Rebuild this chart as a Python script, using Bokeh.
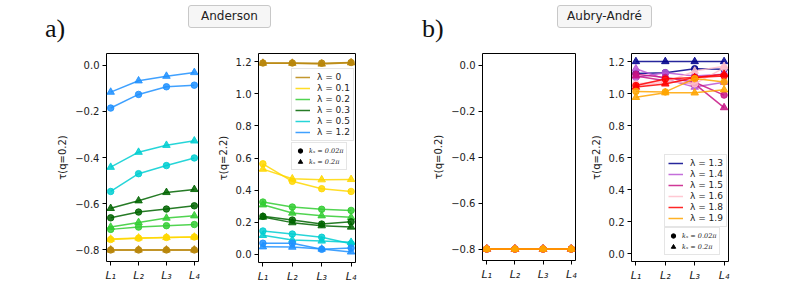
from bokeh.plotting import figure
from bokeh.models import Range1d, FixedTicker, Legend, LegendItem, Div
from bokeh.layouts import row, column
from bokeh.embed import file_html
from bokeh.resources import INLINE

# ---------------- data ----------------
L = [1, 2, 3, 4]
x_labels = ["L₁", "L₂", "L₃", "L₄"]

yticks_q02 = [-0.8, -0.6, -0.4, -0.2, 0.0]
ylabels_q02 = ["−0.8", "−0.6", "−0.4", "−0.2", "0.0"]
yticks_q22 = [0.0, 0.2, 0.4, 0.6, 0.8, 1.0, 1.2]
ylabels_q22 = ["0.0", "0.2", "0.4", "0.6", "0.8", "1.0", "1.2"]

kx_labels = ["kₓ = 0.02π", "kₓ = 0.2π"]

# Anderson
and_lambdas = ["0", "0.1", "0.2", "0.3", "0.5", "1.2"]
and_colors = ["darkgoldenrod", "gold", "limegreen", "darkgreen", "darkturquoise", "dodgerblue"]

and_q02_kx002 = [
    [-0.800, -0.800, -0.800, -0.800],
    [-0.755, -0.749, -0.746, -0.744],
    [-0.711, -0.701, -0.695, -0.690],
    [-0.661, -0.636, -0.623, -0.609],
    [-0.547, -0.470, -0.435, -0.402],
    [-0.186, -0.127, -0.094, -0.087],
]
and_q02_kx02 = [
    [-0.800, -0.800, -0.800, -0.800],
    [-0.753, -0.748, -0.746, -0.744],
    [-0.701, -0.681, -0.662, -0.652],
    [-0.620, -0.587, -0.551, -0.538],
    [-0.442, -0.377, -0.347, -0.328],
    [-0.117, -0.068, -0.048, -0.032],
]
and_q22_kx002 = [
    [1.191, 1.191, 1.190, 1.194],
    [0.564, 0.455, 0.409, 0.392],
    [0.326, 0.295, 0.281, 0.274],
    [0.237, 0.214, 0.189, 0.203],
    [0.146, 0.127, 0.107, 0.067],
    [0.070, 0.070, 0.032, 0.040],
]
and_q22_kx02 = [
    [1.190, 1.190, 1.185, 1.193],
    [0.531, 0.471, 0.465, 0.467],
    [0.309, 0.258, 0.241, 0.231],
    [0.233, 0.198, 0.179, 0.171],
    [0.119, 0.090, 0.084, 0.076],
    [0.048, 0.046, 0.034, 0.016],
]

# Aubry-André
aa_lambdas = ["1.3", "1.4", "1.5", "1.6", "1.8", "1.9"]
aa_colors = ["darkblue", "mediumorchid", "mediumvioletred", "pink", "red", "orange"]

aa_q02_kx002 = [
    [-0.8, -0.8, -0.8, -0.8],
    [-0.8, -0.8, -0.8, -0.8],
    [-0.8, -0.8, -0.8, -0.8],
    [-0.8, -0.8, -0.8, -0.8],
    [-0.8, -0.8, -0.8, -0.8],
    [-0.8, -0.8, -0.8, -0.8],
]
aa_q02_kx02 = [
    [-0.8, -0.8, -0.8, -0.8],
    [-0.8, -0.8, -0.8, -0.8],
    [-0.8, -0.8, -0.8, -0.8],
    [-0.8, -0.8, -0.8, -0.8],
    [-0.8, -0.8, -0.8, -0.8],
    [-0.8, -0.8, -0.8, -0.8],
]
aa_q22_kx002 = [
    [1.125, 1.130, 1.155, 1.152],
    [1.100, 1.130, 1.110, 1.120],
    [1.120, 1.100, 1.070, 0.990],
    [1.060, 1.080, 1.060, 1.160],
    [1.050, 1.090, 1.100, 1.110],
    [1.013, 1.010, 1.093, 1.072],
]
aa_q22_kx02 = [
    [1.200, 1.200, 1.200, 1.200],
    [1.155, 1.090, 1.040, 1.070],
    [1.110, 1.080, 1.060, 0.912],
    [1.050, 1.070, 1.140, 1.170],
    [1.040, 1.060, 1.100, 1.120],
    [0.976, 1.005, 1.004, 1.023],
]

FONT = "DejaVu Sans"


def make_fig(fw, fh, bl, br, bt, bb, yr, yticks, ylabels, ylabel):
    p = figure(frame_width=fw, frame_height=fh, title=None,
               x_range=Range1d(0.85, 4.15), y_range=Range1d(*yr),
               output_backend="svg", toolbar_location=None,
               min_border_left=bl, min_border_right=br,
               min_border_top=bt, min_border_bottom=bb)
    p.grid.visible = False
    p.outline_line_color = "black"
    p.outline_line_width = 1
    p.outline_line_alpha = 1
    p.background_fill_color = "white"
    p.border_fill_color = "white"
    for ax in (p.xaxis[0], p.yaxis[0]):
        ax.axis_line_color = None
        ax.major_tick_out = 4
        ax.major_tick_in = 0
        ax.minor_tick_out = 0
        ax.minor_tick_in = 0
        ax.major_tick_line_color = "black"
        ax.major_label_text_font = FONT
        ax.major_label_text_font_size = "10px"
        ax.major_label_text_color = "#222222"
        ax.major_label_standoff = 3
    p.xaxis[0].ticker = FixedTicker(ticks=L)
    p.xaxis[0].major_label_overrides = {t: s for t, s in zip(L, x_labels)}
    p.xaxis[0].major_label_text_font_style = "italic"
    p.xaxis[0].major_label_text_font_size = "11px"
    p.yaxis[0].ticker = FixedTicker(ticks=yticks)
    p.yaxis[0].major_label_overrides = {t: s for t, s in zip(yticks, ylabels)}
    p.yaxis[0].axis_label = ylabel
    p.yaxis[0].axis_label_text_font = FONT
    p.yaxis[0].axis_label_text_font_size = "10px"
    p.yaxis[0].axis_label_text_font_style = "normal"
    p.yaxis[0].axis_label_text_color = "#222222"
    p.yaxis[0].axis_label_standoff = 4
    return p


def draw_series(p, colors, circ, tri):
    line_rs = []
    for c, yc, yt in zip(colors, circ, tri):
        r = p.line(L, yc, line_color=c, line_width=1.5, line_alpha=0.85)
        p.scatter(L, yc, marker="circle", size=6.5, fill_color=c, line_color=c,
                  fill_alpha=0.85, line_alpha=0.85)
        p.line(L, yt, line_color=c, line_width=1.5, line_alpha=0.85)
        p.scatter(L, yt, marker="triangle", size=7.5, fill_color=c, line_color=c,
                  fill_alpha=0.85, line_alpha=0.85)
        line_rs.append(r)
    # black marker keys: hidden renderers that only appear in the marker legend
    kc = p.scatter(L, circ[0], marker="circle", size=6, color="black", visible=False)
    kt = p.scatter(L, tri[0], marker="triangle", size=6, color="black", visible=False)
    return line_rs, kc, kt


def add_legends(p, lambdas, line_rs, kc, kt, loc1, loc2):
    leg1 = Legend(
        items=[LegendItem(label=f"λ = {lam}", renderers=[r]) for lam, r in zip(lambdas, line_rs)],
        location=loc1, margin=0, padding=3, spacing=1,
        glyph_width=15, glyph_height=10, label_height=10, label_standoff=7,
        label_text_font=FONT, label_text_font_size="9px", label_text_color="#222222",
        border_line_color="#cccccc", border_line_width=1,
        background_fill_color="white", background_fill_alpha=0.85,
    )
    leg2 = Legend(
        items=[LegendItem(label=kx_labels[0], renderers=[kc]),
               LegendItem(label=kx_labels[1], renderers=[kt])],
        location=loc2, margin=0, padding=2, spacing=0,
        glyph_width=12, glyph_height=11, label_height=9, label_standoff=3,
        label_text_font="DejaVu Serif", label_text_font_size="6.5px",
        label_text_font_style="italic", label_text_color="#222222",
        border_line_color="#cccccc", border_line_width=1,
        background_fill_color="white", background_fill_alpha=0.85,
        inactive_fill_alpha=0.0,
    )
    p.add_layout(leg1)
    p.add_layout(leg2)


f1 = make_fig(92, 208, 106, 14, 0, 36, (-0.85, 0.05), yticks_q02, ylabels_q02, "τ(q=0.2)")
draw_series(f1, and_colors, and_q02_kx002, and_q02_kx02)

f2 = make_fig(97, 209, 46, 22, 1, 34, (-0.05, 1.25), yticks_q22, ylabels_q22, "τ(q=2.2)")
r2, kc2, kt2 = draw_series(f2, and_colors, and_q22_kx002, and_q22_kx02)
add_legends(f2, and_lambdas, r2, kc2, kt2, (33, 121), (33, 92))

f3 = make_fig(93, 207, 105, 12, 2, 35, (-0.85, 0.05), yticks_q02, ylabels_q02, "τ(q=0.2)")
draw_series(f3, aa_colors, aa_q02_kx002, aa_q02_kx02)

f4 = make_fig(97, 208, 43, 46, 2, 34, (-0.05, 1.25), yticks_q22, ylabels_q22, "τ(q=2.2)")
r4, kc4, kt4 = draw_series(f4, aa_colors, aa_q22_kx002, aa_q22_kx02)
add_legends(f4, aa_lambdas, r4, kc4, kt4, (33, 34), (33, 6))

box_style = ("position:absolute;top:0px;height:23px;border:1px solid #c8c8c8;"
             "background:#f6f6f6;border-radius:3px;box-sizing:border-box;"
             "font-family:'DejaVu Sans';font-size:12px;line-height:21px;"
             "text-align:center;color:#222;")
panel_style = ("position:absolute;top:5px;font-family:'Liberation Serif';"
               "font-size:26px;color:#111;")
header_html = (
    "<div style='position:relative;width:773px;height:41px;'>"
    f"<span style=\"{panel_style}left:40px;\">a)</span>"
    f"<div style=\"{box_style}left:183px;width:83px;\">Anderson</div>"
    f"<span style=\"{panel_style}left:417px;\">b)</span>"
    f"<div style=\"{box_style}left:552px;width:95px;\">Aubry-André</div>"
    "</div>"
)
header = Div(text=header_html, width=773, height=41)

layout = column(header, row(f1, f2, f3, f4))

with open("out.html", "w") as fh:
    fh.write(file_html(layout, INLINE))
